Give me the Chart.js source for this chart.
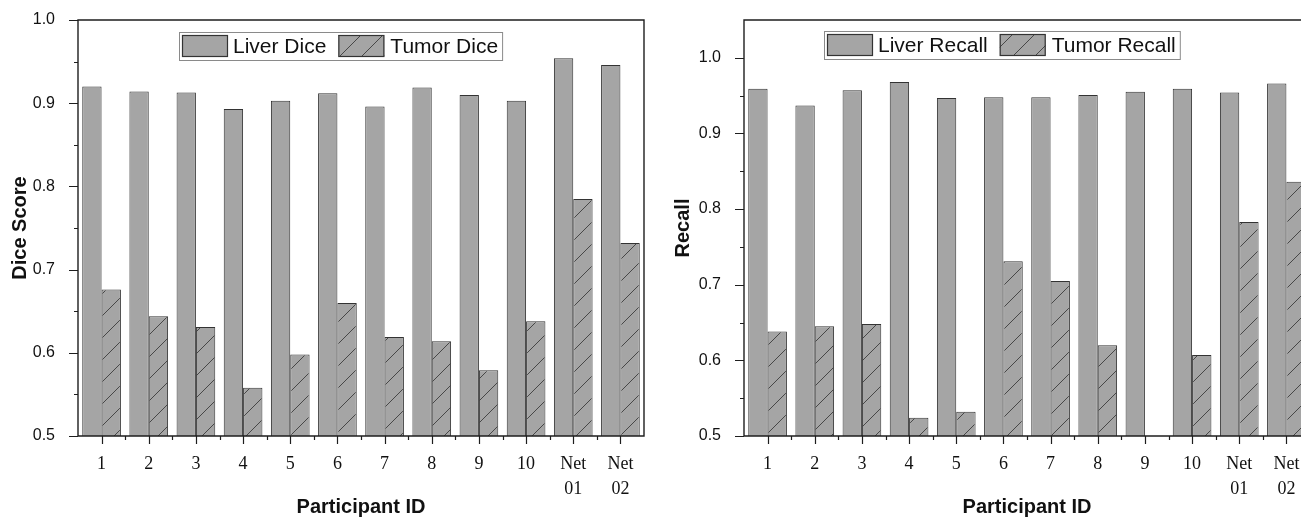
<!DOCTYPE html>
<html><head><meta charset="utf-8">
<script src="https://cdn.jsdelivr.net/npm/chart.js@4.4.1/dist/chart.umd.min.js"></script>
<style>
html,body{margin:0;padding:0;background:#fff;overflow:hidden;width:1301px;height:520px;}
#wrap{position:relative;width:1301px;height:520px;overflow:hidden;background:#fff;}
#c1{position:absolute;left:0;top:0;}
#c2{position:absolute;left:651px;top:0;}
</style></head><body>
<div id="wrap">
<canvas id="c1" width="651" height="520"></canvas>
<canvas id="c2" width="670" height="520"></canvas>
</div>
<script>
// ---- data ----
const categories = ['1','2','3','4','5','6','7','8','9','10',['Net','01'],['Net','02']];
const liverDice   = [0.920,0.914,0.913,0.893,0.903,0.912,0.896,0.919,0.910,0.903,0.954,0.946];
const tumorDice   = [0.676,0.644,0.631,0.558,0.598,0.660,0.619,0.614,0.579,0.638,0.785,0.732];
const liverRecall = [0.959,0.937,0.957,0.968,0.947,0.948,0.948,0.951,0.955,0.959,0.954,0.966];
const tumorRecall = [0.638,0.645,0.648,0.524,0.532,0.731,0.705,0.620,null,0.607,0.783,0.836];
const diceTicks   = [0.5,0.6,0.7,0.8,0.9,1.0];
const recallTicks = [0.5,0.6,0.7,0.8,0.9,1.0];

const FILL = '#a5a5a5';
const EDGE = '#333333';
const AXIS = '#1e1e1e';

function hatchPattern(ctx){
  const c = document.createElement('canvas');
  c.width = 22; c.height = 22;
  const g = c.getContext('2d');
  g.fillStyle = FILL; g.fillRect(0,0,22,22);
  g.strokeStyle = '#3c3c3c'; g.lineWidth = 0.9;
  g.beginPath(); g.moveTo(-2,24); g.lineTo(24,-2); g.stroke();
  return ctx.createPattern(c,'repeat');
}

const decorPlugin = {
  id: 'decor',
  afterDraw(chart, args, opts){
    const {ctx, chartArea:a, scales:{x, y}} = chart;
    ctx.save();
    ctx.strokeStyle = AXIS; ctx.lineWidth = 1.4;
    // full frame
    ctx.beginPath();
    ctx.moveTo(a.left, a.bottom); ctx.lineTo(a.left, a.top); ctx.lineTo(a.right, a.top);
    ctx.lineTo(a.right, a.bottom); ctx.lineTo(a.left, a.bottom);
    ctx.stroke();
    ctx.lineWidth = 1.2;
    ctx.beginPath();
    // major y ticks
    y.ticks.forEach(t => {
      const py = Math.round(y.getPixelForValue(t.value)) + 0.5;
      ctx.moveTo(a.left - 9, py); ctx.lineTo(a.left, py);
    });
    // minor y ticks
    for (let i = 0; i < y.ticks.length - 1; i++){
      const v = (y.ticks[i].value + y.ticks[i+1].value) / 2;
      const py = Math.round(y.getPixelForValue(v)) + 0.5;
      ctx.moveTo(a.left - 4, py); ctx.lineTo(a.left, py);
    }
    // major x ticks at category centres, minor between categories
    const n = chart.data.labels.length;
    for (let i = 0; i < n; i++){
      const px = Math.round(x.getPixelForValue(i)) + 0.5;
      ctx.moveTo(px, a.bottom); ctx.lineTo(px, a.bottom + 8);
    }
    for (let i = 1; i < n; i++){
      const px = Math.round((x.getPixelForValue(i-1) + x.getPixelForValue(i)) / 2) + 0.5;
      ctx.moveTo(px, a.bottom); ctx.lineTo(px, a.bottom + 4);
    }
    ctx.stroke();

    // legend box
    const ds = chart.data.datasets;
    ctx.font = '21px "Liberation Sans", Arial, sans-serif';
    const t1 = ctx.measureText(ds[0].label).width;
    const t2 = ctx.measureText(ds[1].label).width;
    const bx = a.left + opts.dx, by = a.top + opts.dy;
    const bw = 3 + 46 + 5 + t1 + 12 + 46 + 6 + t2 + 4, bh = 28;
    ctx.fillStyle = '#fff';
    ctx.fillRect(bx, by, bw, bh);
    ctx.strokeStyle = '#8a8a8a'; ctx.lineWidth = 1;
    ctx.strokeRect(bx + 0.5, by + 0.5, bw, bh);
    let cx = bx + 3;
    ctx.fillStyle = ds[0].backgroundColor;
    ctx.fillRect(cx, by + 3, 46, 22);
    ctx.strokeStyle = EDGE; ctx.lineWidth = 1.2;
    ctx.strokeRect(cx + 0.5, by + 3.5, 45, 21);
    cx += 46 + 5;
    ctx.fillStyle = '#111'; ctx.textBaseline = 'middle'; ctx.textAlign = 'left';
    ctx.fillText(ds[0].label, cx, by + 15);
    cx += t1 + 12;
    ctx.fillStyle = ds[1].backgroundColor;
    ctx.fillRect(cx, by + 3, 46, 22);
    ctx.strokeStyle = EDGE;
    ctx.strokeRect(cx + 0.5, by + 3.5, 45, 21);
    cx += 46 + 6;
    ctx.fillStyle = '#111';
    ctx.fillText(ds[1].label, cx, by + 15);
    ctx.restore();
  }
};

function makeChart(canvasId, cfg){
  const canvas = document.getElementById(canvasId);
  const ctx = canvas.getContext('2d');
  return new Chart(ctx, {
    type: 'bar',
    data: {
      labels: categories,
      datasets: [
        { label: cfg.labels[0], data: cfg.series[0], backgroundColor: FILL,
          borderColor: EDGE, borderWidth: 1, borderSkipped: 'start', clip: 0 },
        { label: cfg.labels[1], data: cfg.series[1], backgroundColor: hatchPattern(ctx),
          borderColor: EDGE, borderWidth: 1, borderSkipped: 'start', clip: 0 }
      ]
    },
    options: {
      responsive: false,
      animation: false,
      devicePixelRatio: 1,
      layout: { padding: { top: 20, right: cfg.padRight, bottom: 0, left: 0 } },
      datasets: { bar: { categoryPercentage: 0.82, barPercentage: 1.0 } },
      plugins: {
        legend: { display: false },
        tooltip: { enabled: false },
        decor: { dx: cfg.legendDx, dy: cfg.legendDy }
      },
      scales: {
        x: {
          offset: true,
          afterFit(s){ s.height = 84; s.paddingLeft = 0; s.paddingRight = 0; },
          grid: { display: false, drawOnChartArea: false, drawTicks: true, tickLength: 8, offset: false },
          border: { display: false },
          ticks: { color: '#111', padding: 8, maxRotation: 0, autoSkip: false,
                   font: { family: '"Liberation Serif", "Times New Roman", serif', size: 18, lineHeight: 1.38 } },
          title: { display: true, text: 'Participant ID', color: '#111',
                   padding: { top: 0, bottom: 1 },
                   font: { family: '"Liberation Sans", Arial, sans-serif', size: 20, weight: 'bold' } }
        },
        y: {
          min: 0.5, max: cfg.yMax,
          afterFit(s){ s.width = cfg.yWidth; s.paddingTop = 0; s.paddingBottom = 0; },
          afterBuildTicks(s){ s.ticks = cfg.ticks.map(v => ({ value: v })); },
          grid: { display: false, drawOnChartArea: false, drawTicks: true, tickLength: 9 },
          border: { display: false },
          ticks: { color: '#111', padding: 14,
                   callback: v => Number(v).toFixed(1),
                   font: { family: '"Liberation Sans", Arial, sans-serif', size: 16 } },
          title: { display: true, text: cfg.yTitle, color: '#111',
                   padding: { top: cfg.yTitlePad, bottom: 0 },
                   font: { family: '"Liberation Sans", Arial, sans-serif', size: 20, weight: 'bold' } }
        }
      }
    },
    plugins: [decorPlugin]
  });
}

makeChart('c1', {
  labels: ['Liver Dice', 'Tumor Dice'],
  series: [liverDice, tumorDice],
  ticks: diceTicks, yMax: 1.0, yTitle: 'Dice Score',
  yWidth: 78, yTitlePad: 8, padRight: 7,
  legendDx: 101, legendDy: 12
});
makeChart('c2', {
  labels: ['Liver Recall', 'Tumor Recall'],
  series: [liverRecall, tumorRecall],
  ticks: recallTicks, yMax: 1.05, yTitle: 'Recall',
  yWidth: 93, yTitlePad: 20, padRight: 11,
  legendDx: 80, legendDy: 11
});
</script>
</body></html>
